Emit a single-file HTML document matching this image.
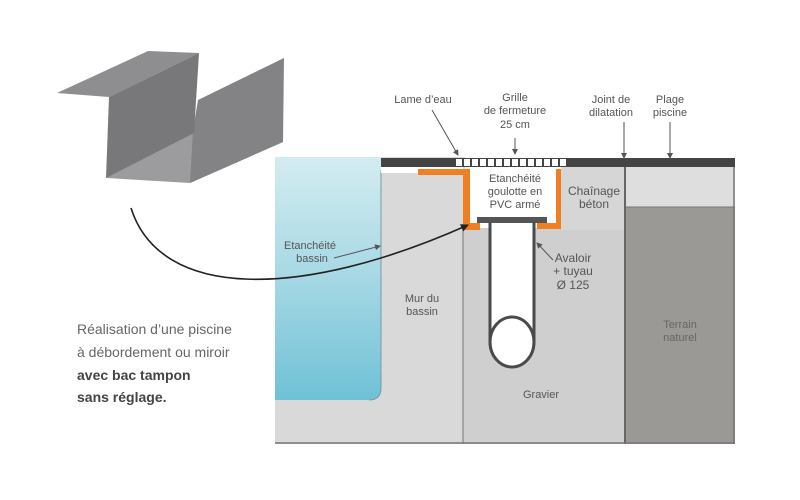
<!DOCTYPE html>
<html><head><meta charset="utf-8"><style>
body{margin:0;background:#fff;width:800px;height:500px;overflow:hidden}
svg{display:block}
text{font-family:"Liberation Sans",sans-serif}
</style></head><body>
<svg width="800" height="500" viewBox="0 0 800 500">
<defs>
<linearGradient id="w" x1="0" y1="0" x2="0" y2="1"><stop offset="0" stop-color="#d3ecf1"/><stop offset="0.5" stop-color="#a6d8e4"/><stop offset="1" stop-color="#6fc1d6"/></linearGradient>
<marker id="a" markerWidth="8" markerHeight="8" refX="7" refY="4" orient="auto" markerUnits="userSpaceOnUse"><path d="M0,0 L8,4 L0,8z" fill="#222"/></marker>
<marker id="s" markerWidth="6" markerHeight="6" refX="5" refY="3" orient="auto" markerUnits="userSpaceOnUse"><path d="M0,0 L6,3 L0,6z" fill="#555"/></marker>
</defs>
<!-- 3D channel -->
<polygon points="106,178 190,183 283,142 198,120" fill="#9c9c9e"/>
<polygon points="198,100 284,58 283,142 190,183 193,130" fill="#838386"/>
<polygon points="57,93 148,51 199,53 109,97" fill="#8e8e90"/>
<polygon points="109,97 199,53 194,133 106,178" fill="#78787b"/>
<!-- ground layers -->
<rect x="275" y="157" width="190" height="287" fill="#d9d9d9"/>
<path d="M275,157 H381 V388 Q381,400 369,400 H275Z" fill="url(#w)"/>
<path d="M381,170 V388 Q381,400 369,400" fill="none" stroke="#7a9aa2" stroke-width="1"/>
<rect x="463" y="228" width="162" height="216" fill="#cfcfcf"/>
<rect x="561" y="167" width="64" height="63" fill="#d6d6d6"/>
<rect x="626" y="167" width="109" height="40" fill="#dedede"/>
<rect x="626" y="207" width="109" height="237" fill="#9b9996"/>
<line x1="625" y1="160" x2="625" y2="444" stroke="#666" stroke-width="2"/>
<line x1="463" y1="228" x2="463" y2="444" stroke="#777" stroke-width="1"/>
<line x1="626" y1="207" x2="735" y2="207" stroke="#777"/>
<line x1="275" y1="443" x2="735" y2="443" stroke="#777" stroke-width="1.5"/>
<line x1="734" y1="160" x2="734" y2="444" stroke="#777" stroke-width="1.5"/>
<!-- channel -->
<rect x="381" y="167" width="82" height="6" fill="#fff"/>
<path d="M418,169 H470 V223 H480 V230 H463 V175 H418Z" fill="#f07f24"/>
<path d="M470,169 H561 V229 H546 V223 H470Z" fill="#fff"/>
<path d="M556,169 H561 V229 H537 V223 H556Z" fill="#f07f24"/>
<rect x="477" y="217" width="70" height="6" fill="#555"/>
<!-- pipe -->
<path d="M490,223 V340 A22,26 0 0 0 534,340 V223" fill="#fff" stroke="#4a4a4a" stroke-width="3"/>
<ellipse cx="512" cy="342" rx="22" ry="25" fill="#fff" stroke="#4a4a4a" stroke-width="3"/>
<!-- coping -->
<rect x="381" y="158" width="74" height="9" fill="#444"/>
<rect x="572" y="158" width="163" height="9" fill="#444"/>
<rect x="455" y="158" width="117" height="9" fill="#444"/>
<g fill="#fff">
<rect x="456" y="159" width="6" height="7"/><rect x="464" y="159" width="6" height="7"/><rect x="472" y="159" width="6" height="7"/><rect x="480" y="159" width="6" height="7"/><rect x="488" y="159" width="6" height="7"/><rect x="496" y="159" width="6" height="7"/><rect x="504" y="159" width="6" height="7"/><rect x="512" y="159" width="6" height="7"/><rect x="520" y="159" width="6" height="7"/><rect x="528" y="159" width="6" height="7"/><rect x="536" y="159" width="6" height="7"/><rect x="544" y="159" width="6" height="7"/><rect x="552" y="159" width="6" height="7"/><rect x="560" y="159" width="6" height="7"/>
</g>
<!-- labels -->
<g font-size="11" fill="#555" text-anchor="middle">
<text x="423" y="103">Lame d’eau</text>
<text x="515" y="101">Grille</text><text x="515" y="114">de fermeture</text><text x="515" y="128">25 cm</text>
<text x="611" y="103">Joint de</text><text x="611" y="116">dilatation</text>
<text x="670" y="103">Plage</text><text x="670" y="116">piscine</text>
<text x="515" y="182">Etanchéité</text><text x="515" y="195">goulotte en</text><text x="515" y="208">PVC armé</text>
<text x="594" y="195" font-size="12">Chaînage</text><text x="594" y="208" font-size="12">béton</text>
<text x="310" y="249">Etanchéité</text><text x="312" y="262">bassin</text>
<text x="422" y="302">Mur du</text><text x="422" y="315">bassin</text>
<text x="573" y="262" font-size="12">Avaloir</text><text x="573" y="275" font-size="12">+ tuyau</text><text x="573" y="289" font-size="12">Ø 125</text>
<text x="541" y="398">Gravier</text>
<text x="680" y="328" fill="#666">Terrain</text><text x="680" y="341" fill="#666">naturel</text>
</g>
<g stroke="#555" stroke-width="1" fill="none" marker-end="url(#s)">
<line x1="432" y1="110" x2="458" y2="155"/>
<line x1="515" y1="138" x2="515" y2="154"/>
<line x1="624" y1="122" x2="624" y2="158"/>
<line x1="670" y1="122" x2="670" y2="158"/>
<line x1="334" y1="258" x2="380" y2="246"/>
<line x1="553" y1="260" x2="537" y2="243"/>
</g>
<path d="M131,208 C160,300 300,300 468,225" fill="none" stroke="#222" stroke-width="1.6" marker-end="url(#a)"/>
<g font-size="14" fill="#666">
<text x="77" y="334">Réalisation d’une piscine</text>
<text x="77" y="357">à débordement ou miroir</text>
<text x="77" y="380" font-weight="bold" fill="#444">avec bac tampon</text>
<text x="77" y="402" font-weight="bold" fill="#444">sans réglage.</text>
</g>
</svg>
</body></html>
